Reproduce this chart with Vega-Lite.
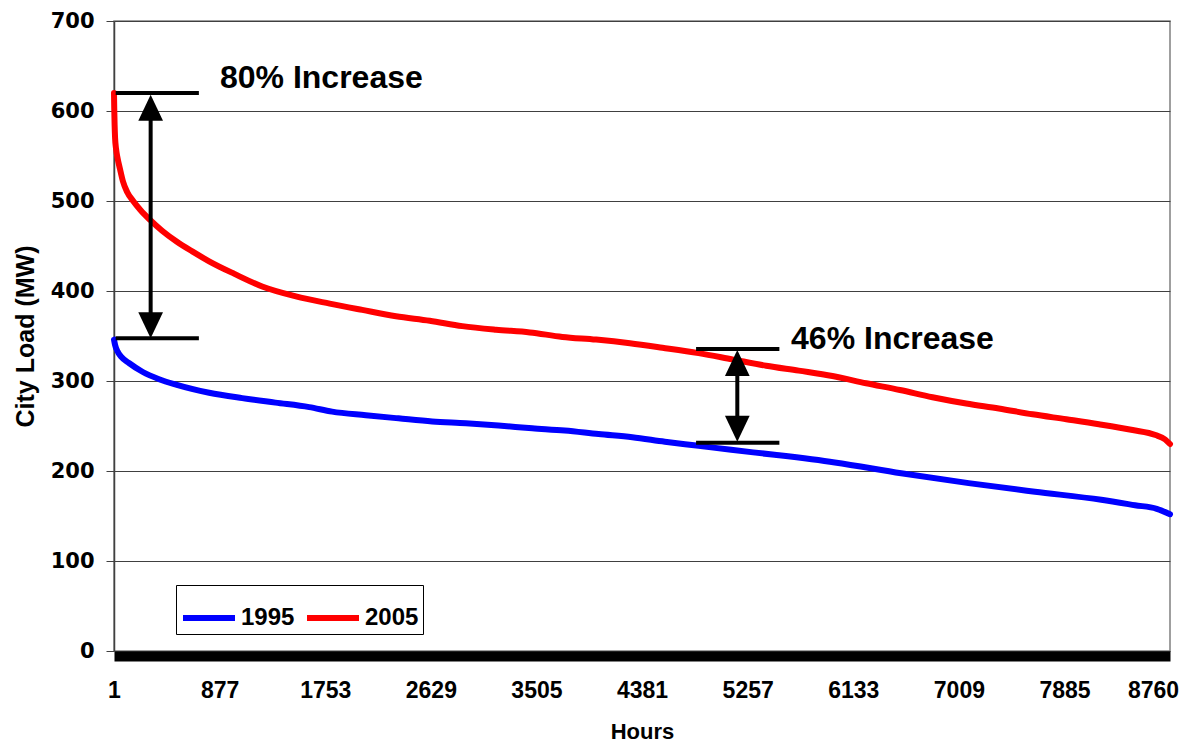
{
  "$schema": "https://vega.github.io/schema/vega-lite/v6.json",
  "width": 1056,
  "height": 630,
  "autosize": {"type": "none"},
  "padding": {"left": 114, "top": 21, "right": 18, "bottom": 93},
  "background": "white",
  "config": {
    "view": {"stroke": "#808080", "strokeWidth": 1.5},
    "font": "Liberation Sans",
    "legend": {
      "orient": "none", "legendX": 62, "legendY": 564, "direction": "horizontal",
      "symbolType": "stroke", "symbolSize": 2704, "symbolStrokeWidth": 6,
      "labelFontSize": 24, "labelFontWeight": "bold", "labelFont": "Liberation Sans", "labelColor": "black",
      "strokeColor": "black", "fillColor": "white", "padding": 4, "columnPadding": 0, "labelOffset": 3,
      "symbolOpacity": 1
    }
  },
  "datasets": {
    "load": [
      {"hour":1,"mw":620,"year":"2005"},{"hour":3,"mw":603,"year":"2005"},{"hour":6,"mw":585,"year":"2005"},{"hour":10,"mw":570,"year":"2005"},{"hour":18,"mw":558,"year":"2005"},{"hour":30,"mw":548,"year":"2005"},{"hour":50,"mw":536,"year":"2005"},{"hour":75,"mw":522,"year":"2005"},{"hour":110,"mw":510,"year":"2005"},{"hour":160,"mw":500,"year":"2005"},{"hour":220,"mw":490,"year":"2005"},{"hour":300,"mw":479,"year":"2005"},{"hour":400,"mw":467,"year":"2005"},{"hour":520,"mw":455,"year":"2005"},{"hour":650,"mw":444,"year":"2005"},{"hour":790,"mw":433,"year":"2005"},{"hour":1000,"mw":419,"year":"2005"},{"hour":1230,"mw":405,"year":"2005"},{"hour":1510,"mw":394,"year":"2005"},{"hour":1790,"mw":386,"year":"2005"},{"hour":2060,"mw":379,"year":"2005"},{"hour":2340,"mw":372,"year":"2005"},{"hour":2620,"mw":367,"year":"2005"},{"hour":2890,"mw":361,"year":"2005"},{"hour":3170,"mw":357,"year":"2005"},{"hour":3450,"mw":354,"year":"2005"},{"hour":3720,"mw":349,"year":"2005"},{"hour":4000,"mw":346,"year":"2005"},{"hour":4280,"mw":342,"year":"2005"},{"hour":4550,"mw":337,"year":"2005"},{"hour":4850,"mw":331,"year":"2005"},{"hour":5130,"mw":324,"year":"2005"},{"hour":5410,"mw":317,"year":"2005"},{"hour":5680,"mw":311.5,"year":"2005"},{"hour":5960,"mw":305.5,"year":"2005"},{"hour":6240,"mw":297.5,"year":"2005"},{"hour":6520,"mw":290,"year":"2005"},{"hour":6790,"mw":282,"year":"2005"},{"hour":7070,"mw":275,"year":"2005"},{"hour":7340,"mw":269.5,"year":"2005"},{"hour":7620,"mw":263,"year":"2005"},{"hour":7900,"mw":257.5,"year":"2005"},{"hour":8170,"mw":252,"year":"2005"},{"hour":8450,"mw":245.5,"year":"2005"},{"hour":8640,"mw":240,"year":"2005"},{"hour":8720,"mw":235,"year":"2005"},{"hour":8760,"mw":230,"year":"2005"},
      {"hour":1,"mw":346,"year":"1995"},{"hour":10,"mw":340,"year":"1995"},{"hour":30,"mw":333,"year":"1995"},{"hour":60,"mw":327,"year":"1995"},{"hour":125,"mw":320,"year":"1995"},{"hour":240,"mw":310,"year":"1995"},{"hour":375,"mw":302,"year":"1995"},{"hour":515,"mw":296,"year":"1995"},{"hour":790,"mw":287,"year":"1995"},{"hour":1065,"mw":281,"year":"1995"},{"hour":1340,"mw":276,"year":"1995"},{"hour":1620,"mw":271,"year":"1995"},{"hour":1810,"mw":266,"year":"1995"},{"hour":2090,"mw":262,"year":"1995"},{"hour":2360,"mw":258.5,"year":"1995"},{"hour":2640,"mw":255,"year":"1995"},{"hour":2920,"mw":253,"year":"1995"},{"hour":3190,"mw":250.5,"year":"1995"},{"hour":3470,"mw":247.5,"year":"1995"},{"hour":3740,"mw":245,"year":"1995"},{"hour":4020,"mw":241,"year":"1995"},{"hour":4300,"mw":237.5,"year":"1995"},{"hour":4570,"mw":232.5,"year":"1995"},{"hour":4850,"mw":228,"year":"1995"},{"hour":5120,"mw":223.5,"year":"1995"},{"hour":5480,"mw":218,"year":"1995"},{"hour":5980,"mw":209.5,"year":"1995"},{"hour":6530,"mw":197.5,"year":"1995"},{"hour":7090,"mw":186.5,"year":"1995"},{"hour":7640,"mw":177,"year":"1995"},{"hour":8190,"mw":168,"year":"1995"},{"hour":8470,"mw":162,"year":"1995"},{"hour":8650,"mw":158,"year":"1995"},{"hour":8760,"mw":152,"year":"1995"}
    ],
    "bars": [
      {"hour":15,"hour2":705,"mw":620},
      {"hour":15,"hour2":705,"mw":347.4},
      {"hour":4829,"hour2":5520,"mw":335.6},
      {"hour":4829,"hour2":5520,"mw":231.5}
    ],
    "shafts": [
      {"hour":305,"mw":590,"mw2":373},
      {"hour":5171,"mw":306,"mw2":258}
    ],
    "heads": [
      {"hour":305,"mw":618,"dir":"up"},
      {"hour":305,"mw":347.4,"dir":"down"},
      {"hour":5171,"mw":334.4,"dir":"up"},
      {"hour":5171,"mw":232.6,"dir":"down"}
    ],
    "notes": [
      {"hour":880,"mw":625.6,"text":"80% Increase"},
      {"hour":5617,"mw":335.2,"text":"46% Increase"}
    ]
  },
  "layer": [
    {
      "data": {"name": "load"},
      "mark": {"type": "line", "strokeWidth": 6, "interpolate": "monotone", "strokeCap": "round", "strokeJoin": "round"},
      "encoding": {
        "x": {
          "field": "hour", "type": "quantitative",
          "scale": {"domain": [1, 8760], "nice": false, "zero": false},
          "axis": {
            "title": "Hours", "values": [1, 877, 1753, 2629, 3505, 4381, 5257, 6133, 7009, 7885, 8760], "format": "d",
            "grid": false, "ticks": false, "offset": 5, "domainWidth": 10, "domainColor": "black",
            "labelFontSize": 23, "labelFontWeight": "bold", "labelColor": "black", "labelFont": "Liberation Sans",
            "labelBaseline": "alphabetic", "labelPadding": 41, "labelFlush": false, "labelOverlap": false,
            "labelOffset": {"expr": "datum.value == 8760 ? -17 : 0"},
            "titleFontSize": 22, "titleFontWeight": "bold", "titleColor": "black", "titleFont": "Liberation Sans",
            "titleY": 82, "titleBaseline": "alphabetic"
          }
        },
        "y": {
          "field": "mw", "type": "quantitative",
          "scale": {"domain": [0, 700], "nice": false},
          "axis": {
            "title": "City Load (MW)", "values": [0, 100, 200, 300, 400, 500, 600, 700],
            "grid": true, "gridColor": "#404040", "gridWidth": 1, "gridOpacity": 1,
            "domainColor": "#404040", "domainWidth": 1.5, "tickColor": "#404040", "tickSize": 8, "tickWidth": 1,
            "labelFontSize": 21, "labelFontWeight": "bold", "labelColor": "black", "labelFont": "DejaVu Sans",
            "labelPadding": 12,
            "titleFontSize": 25, "titleFontWeight": "bold", "titleColor": "black", "titleFont": "Liberation Sans",
            "titleX": -89, "titleY": 315, "titleAngle": -90, "titleAlign": "center", "titleBaseline": "middle"
          }
        },
        "color": {
          "field": "year", "type": "nominal",
          "scale": {"domain": ["1995", "2005"], "range": ["#0000FF", "#FF0000"]},
          "legend": {"title": null}
        }
      }
    },
    {
      "data": {"name": "bars"},
      "mark": {"type": "rule", "color": "black", "strokeWidth": 4},
      "encoding": {
        "x": {"field": "hour", "type": "quantitative"},
        "x2": {"field": "hour2"},
        "y": {"field": "mw", "type": "quantitative"}
      }
    },
    {
      "data": {"name": "shafts"},
      "mark": {"type": "rule", "color": "black", "strokeWidth": 4},
      "encoding": {
        "x": {"field": "hour", "type": "quantitative"},
        "y": {"field": "mw", "type": "quantitative"},
        "y2": {"field": "mw2"}
      }
    },
    {
      "data": {"name": "heads"},
      "mark": {"type": "point", "filled": true, "color": "black", "opacity": 1, "size": 676, "strokeWidth": 0},
      "encoding": {
        "x": {"field": "hour", "type": "quantitative"},
        "y": {"field": "mw", "type": "quantitative"},
        "shape": {
          "field": "dir", "type": "nominal",
          "scale": {"domain": ["up", "down"], "range": ["M0,0L-0.95,2L0.95,2Z", "M0,0L-0.95,-2L0.95,-2Z"]},
          "legend": null
        }
      }
    },
    {
      "data": {"name": "notes"},
      "mark": {"type": "text", "align": "left", "baseline": "alphabetic", "fontSize": 32, "fontWeight": "bold", "font": "Liberation Sans", "color": "black"},
      "encoding": {
        "x": {"field": "hour", "type": "quantitative"},
        "y": {"field": "mw", "type": "quantitative"},
        "text": {"field": "text"}
      }
    }
  ]
}
